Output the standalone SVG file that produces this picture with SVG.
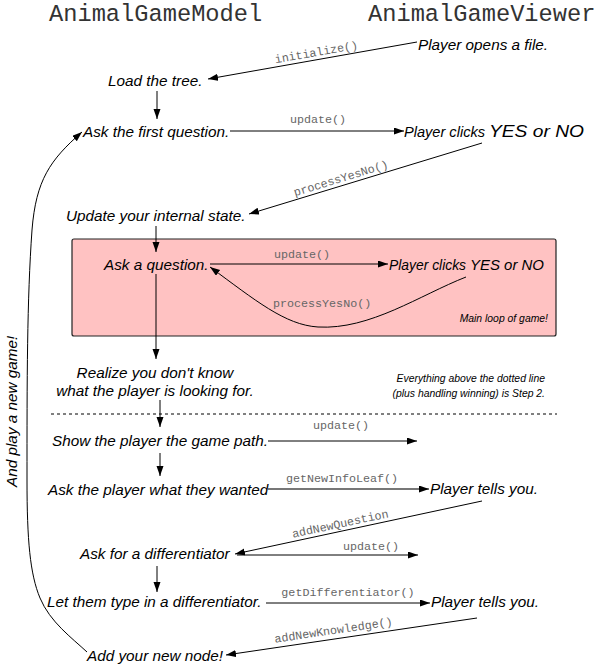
<svg xmlns="http://www.w3.org/2000/svg" width="597" height="667" viewBox="0 0 597 667">
<style>
.t{font-family:"Liberation Sans",Arial,sans-serif;font-style:italic;font-size:15.3px;fill:#000}
.note{font-family:"Liberation Sans",Arial,sans-serif;font-style:italic;font-size:10.4px;fill:#000}
.lbl{font-family:"Liberation Mono","Courier New",monospace;font-size:11.7px;fill:#666}
.title{font-family:"Liberation Mono","Courier New",monospace;font-size:23.7px;fill:#333}
.c{fill:none;stroke:#000;stroke-width:1;marker-end:url(#ah)}
</style>
<defs>
<marker id="ah" markerUnits="userSpaceOnUse" markerWidth="11" markerHeight="8" refX="10" refY="3.5" orient="auto">
<path d="M0,0 L10,3.5 L0,7 z" fill="#000"/>
</marker>
</defs>
<rect width="597" height="667" fill="#fff"/>

<g id="headers">
<text class="title" x="49" y="21">AnimalGameModel</text>
<text class="title" x="368" y="21">AnimalGameViewer</text>
</g>

<g id="main-loop-box">
<rect x="72" y="239" width="484" height="97" rx="2" fill="#ffc2c2" stroke="#222" stroke-width="1.2"/>
<text class="note" x="548" y="322" text-anchor="end">Main loop of game!</text>
</g>

<g id="step2-note">
<text class="note" x="545" y="382" text-anchor="end">Everything above the dotted line</text>
<text class="note" x="545" y="397" text-anchor="end">(plus handling winning) is Step 2.</text>
<line x1="51" y1="414" x2="557" y2="414" stroke="#000" stroke-width="1" stroke-dasharray="3,3"/>
</g>

<g id="n-player-opens"><text class="t" x="418" y="50">Player opens a file.</text></g>
<g id="n-load"><text class="t" x="108" y="86">Load the tree.</text></g>
<g id="n-ask-first"><text class="t" x="83" y="137">Ask the first question.</text></g>
<g id="n-player-clicks-1"><text class="t" x="404" y="137" textLength="81" lengthAdjust="spacingAndGlyphs">Player clicks</text><text class="t" x="489" y="137" style="font-size:16.5px" textLength="95" lengthAdjust="spacingAndGlyphs">YES or NO</text></g>
<g id="n-update-state"><text class="t" x="66" y="221">Update your internal state.</text></g>
<g id="n-ask-question"><text class="t" x="104" y="270">Ask a question.</text></g>
<g id="n-player-clicks-2"><text class="t" x="389" y="270" textLength="77" lengthAdjust="spacingAndGlyphs">Player clicks</text><text class="t" x="470" y="270" textLength="74" lengthAdjust="spacingAndGlyphs">YES or NO</text></g>
<g id="n-realize"><text class="t" x="155" y="378" text-anchor="middle">Realize you don't know</text><text class="t" x="155" y="396" text-anchor="middle">what the player is looking for.</text></g>
<g id="n-show-path"><text class="t" x="52" y="446">Show the player the game path.</text></g>
<g id="n-ask-player"><text class="t" x="48" y="495">Ask the player what they wanted</text></g>
<g id="n-player-tells-1"><text class="t" x="430" y="494">Player tells you.</text></g>
<g id="n-ask-diff"><text class="t" x="80" y="559">Ask for a differentiator</text></g>
<g id="n-let-type"><text class="t" x="47" y="607">Let them type in a differentiator.</text></g>
<g id="n-player-tells-2"><text class="t" x="431" y="607">Player tells you.</text></g>
<g id="n-add-node"><text class="t" x="87" y="661">Add your new node!</text></g>

<g id="connectors">
<line class="c" x1="417" y1="42" x2="208" y2="79"/>
<text class="lbl" x="317" y="56" text-anchor="middle" transform="rotate(-10 317 56)">initialize()</text>

<line class="c" x1="157" y1="91" x2="157" y2="119"/>

<line class="c" x1="230" y1="131" x2="404" y2="131"/>
<text class="lbl" x="318" y="123" text-anchor="middle">update()</text>

<line class="c" x1="482" y1="143" x2="249" y2="214"/>
<text class="lbl" x="342" y="182" text-anchor="middle" transform="rotate(-17 342 182)">processYesNo()</text>

<line class="c" x1="156" y1="226" x2="156" y2="252"/>

<line class="c" x1="210" y1="264" x2="388" y2="264"/>
<text class="lbl" x="302" y="258" text-anchor="middle">update()</text>

<path class="c" d="M466,277 C420,295 370,330 318,327 C285,325 255,300 210,267"/>
<text class="lbl" x="273" y="307">processYesNo()</text>

<line class="c" x1="156" y1="274" x2="156" y2="359"/>
<line class="c" x1="160" y1="400" x2="160" y2="427"/>

<line class="c" x1="268" y1="441" x2="417" y2="441"/>
<text class="lbl" x="341" y="429" text-anchor="middle">update()</text>

<line class="c" x1="160" y1="453" x2="160" y2="476"/>

<line x1="268" y1="489" x2="421" y2="489" stroke="#777" stroke-width="2"/>
<line class="c" x1="420" y1="489" x2="429" y2="489"/>
<text class="lbl" x="342" y="482" text-anchor="middle">getNewInfoLeaf()</text>

<line class="c" x1="482" y1="501" x2="235" y2="554"/>
<text class="lbl" x="341" y="527.5" text-anchor="middle" transform="rotate(-12.1 341 527.5)">addNewQuestion</text>

<line class="c" x1="237" y1="555" x2="418" y2="555"/>
<text class="lbl" x="371" y="550" text-anchor="middle">update()</text>

<line class="c" x1="157" y1="566" x2="157" y2="592"/>

<line class="c" x1="266" y1="603" x2="430" y2="603"/>
<text class="lbl" x="348" y="596" text-anchor="middle">getDifferentiator()</text>

<line class="c" x1="477" y1="618" x2="226" y2="655"/>
<text class="lbl" x="334" y="634" text-anchor="middle" transform="rotate(-8.4 334 634)">addNewKnowledge()</text>

<path class="c" d="M87,652 C72,638 50,622 40,598 C30,574 27,540 27,480 C27,380 27,300 32,230 C36,180 50,160 82,132"/>
<text class="t" x="16.5" y="487" transform="rotate(-90 16.5 487)">And play a new game!</text>
</g>
</svg>
